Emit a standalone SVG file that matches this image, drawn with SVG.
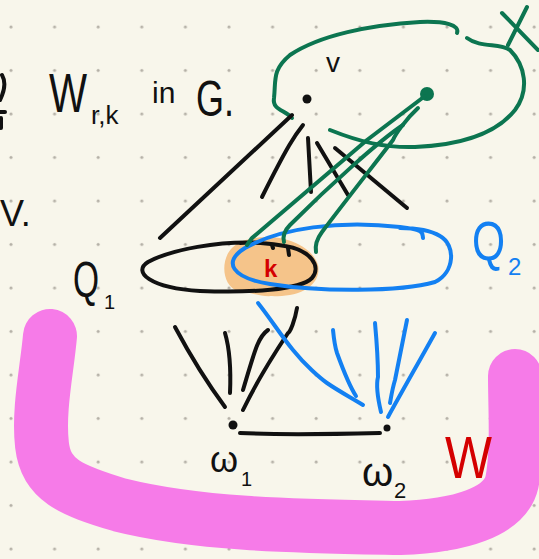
<svg xmlns="http://www.w3.org/2000/svg" width="539" height="559" viewBox="0 0 539 559">
<defs>
<pattern id="dots" patternUnits="userSpaceOnUse" x="0" y="0" width="43.6" height="43.5">
<circle cx="11" cy="27" r="1.5" fill="#b4b0a6"/>
</pattern>
<style>
.s{fill:none;stroke-linecap:round;stroke-linejoin:round;stroke-width:4}
.k{stroke:#111}
.g{stroke:#0c7550}
.b{stroke:#1380f2}
.t{font-family:"Liberation Sans","DejaVu Sans",sans-serif;fill:#111}
.bt{fill:#1380f2}
.rt{fill:#d40000}
</style>
</defs>
<rect width="539" height="559" fill="#f8f6eb"/>
<rect width="539" height="559" fill="url(#dots)"/>

<g id="W-set">
<path d="M50,336 C47,370 38,410 42,445 C46,480 70,490 120,505 C200,525 300,526 400,528 C460,526 505,512 512,482 C518,450 515,410 515,376" fill="none" stroke="#f67be8" stroke-width="54" stroke-linecap="round" stroke-linejoin="round"/>
<text class="t rt" transform="translate(445,478) scale(0.83,1)" font-size="60">W</text>
</g>

<g id="title">
<path class="s k" d="M2,75 C6,82 4,92 0,100 M0,112 L5,112 M1,118 L1,128"/>
<text class="t" transform="translate(49,112) scale(0.72,1)" font-size="56">W</text>
<text class="t" x="91" y="124" font-size="26">r,k</text>
<text class="t" x="152" y="103" font-size="30">in</text>
<text class="t" transform="translate(196,116) scale(0.72,1)" font-size="50">G.</text>
<text class="t" x="0" y="226" font-size="36">V.</text>
</g>

<g id="node-v">
<path class="s g" d="M292,118 C285,110 272,110 274,98 C276,80 272,70 290,55 C320,35 370,25 420,22 C445,21 460,25 457,33"/>
<path class="s g" d="M467,38 C480,48 500,43 510,50 C525,65 530,90 515,110 C495,135 460,145 415,147 C385,148 360,142 330,130"/>
<path class="s g" d="M502,13 L538,50 M527,7 L508,45"/>
<circle cx="427" cy="94" r="7" fill="#0c7550"/>
<circle cx="307" cy="99" r="4.5" fill="#111"/>
<text class="t" x="326" y="72" font-size="28">v</text>
</g>

<g id="node-k">
<path d="M250,239 C280,232 312,245 318,265 C322,285 300,298 272,296 C260,297 250,292 238,291 C222,286 220,260 232,248 C238,242 244,240 250,239 Z" fill="#f5c48a"/>
</g>

<g id="node-Q1">
<path class="s k" d="M263,243 C220,240 170,250 148,262 C132,272 150,288 200,291 C250,293 300,290 312,278 C322,266 310,250 285,246 C270,243 250,242 240,243"/>
<path class="s k" d="M272,245 L273,248 M288,248 L289,255"/>
<text class="t" transform="translate(73,297) scale(0.67,1)" font-size="50">Q</text>
<text class="t" x="104" y="309" font-size="20">1</text>
</g>

<g id="node-Q2">
<path class="s b" d="M423,238 C422,232 425,230 400,227 C340,220 280,228 245,248 C222,262 232,278 270,284 C320,292 400,292 435,282 C455,272 456,245 440,236 C430,230 415,228 400,228"/>
<text class="t bt" transform="translate(472,260) scale(0.76,1)" font-size="56">Q</text>
<text class="t bt" x="508" y="275" font-size="24">2</text>
</g>

<text id="label-k" class="t rt" x="264" y="277" font-size="24" font-weight="bold">k</text>

<g id="node-w1">
<circle cx="233" cy="425" r="4.5" fill="#111"/>
<text class="t" x="210" y="472" font-size="36">ω</text>
<text class="t" x="241" y="486" font-size="20">1</text>
</g>

<g id="node-w2">
<circle cx="387" cy="428" r="3.5" fill="#111"/>
<text class="t" x="362" y="486" font-size="40">ω</text>
<text class="t" x="394" y="498" font-size="22">2</text>
</g>

<g id="connectors">
<path class="s k" d="M292,115 L160,238"/>
<path class="s k" d="M303,125 C295,135 288,145 262,197"/>
<path class="s k" d="M308,138 L311,192"/>
<path class="s k" d="M317,143 L348,195"/>
<path class="s k" d="M335,148 L407,208"/>
<path class="s g" d="M425,96 L367,140 L252,238 L247,245"/>
<path class="s g" d="M418,108 C405,120 395,135 393,140 C370,170 350,195 322,232 C316,240 315,246 316,252"/>
<path class="s g" d="M403,125 C380,140 330,185 290,225 C283,232 283,238 284,242"/>
<path class="s k" d="M175,327 C190,355 205,380 225,407"/>
<path class="s k" d="M225,333 C230,350 231,370 230,393"/>
<path class="s k" d="M268,330 C258,337 255,350 243,390"/>
<path class="s k" d="M297,308 C295,320 290,333 288,333 C270,360 255,385 243,410"/>
<path class="s k" d="M240,433 C280,435 340,434 380,433"/>
<path class="s b" d="M258,303 C270,318 282,337 293,350 C305,365 320,378 327,383 C340,392 352,398 363,405"/>
<path class="s b" d="M333,330 C334,340 336,350 337,353 C345,375 352,390 356,396"/>
<path class="s b" d="M375,323 C377,345 378,365 378,377 C376,385 377,395 381,412"/>
<path class="s b" d="M407,320 C402,345 398,365 395,380 C392,390 391,398 390,403"/>
<path class="s b" d="M435,333 C420,360 400,395 388,417"/>
</g>
</svg>
